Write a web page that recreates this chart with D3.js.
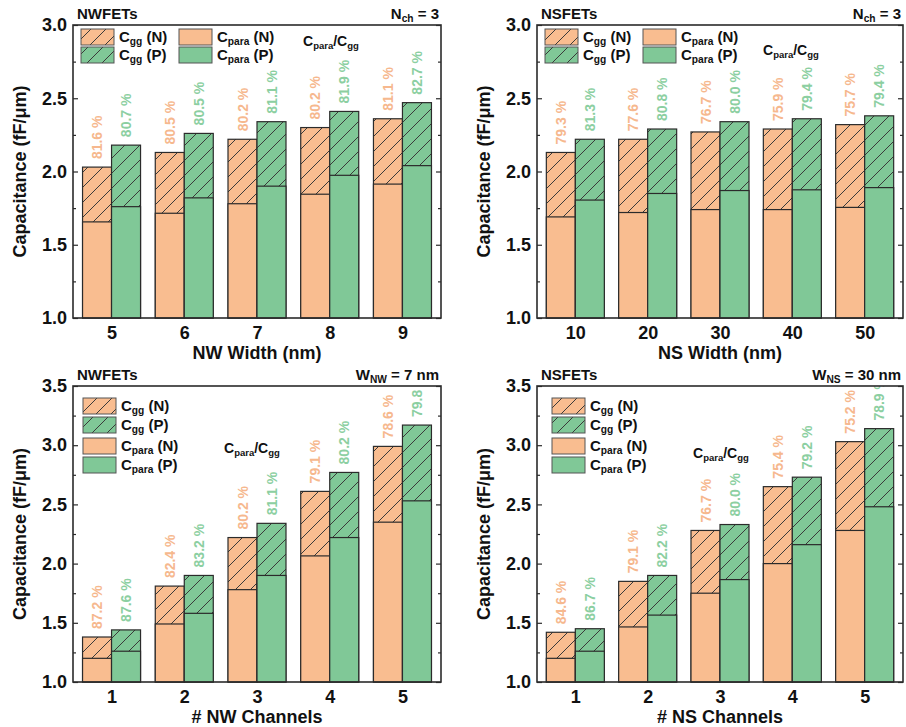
<!DOCTYPE html>
<html>
<head>
<meta charset="utf-8">
<script src="https://cdn.jsdelivr.net/npm/d3@7"></script>
<style>
  body { margin: 0; background: #fff; }
  svg { font-family: "Liberation Sans", Arial, sans-serif; font-weight: bold; }
</style>
</head>
<body>
<svg id="chart" width="906" height="727"></svg>
<script>
/* ---------------- data ---------------- */
// NW width sweep (N_ch = 3)
const nwWidths = ['5', '6', '7', '8', '9'];
const nwWidthCggN = [2.03, 2.13, 2.22, 2.30, 2.36];
const nwWidthCggP = [2.18, 2.26, 2.34, 2.41, 2.47];
const nwWidthCparaN = [1.656, 1.715, 1.78, 1.845, 1.914];
const nwWidthCparaP = [1.76, 1.82, 1.90, 1.974, 2.04];
const nwWidthPctN = ['81.6 %', '80.5 %', '80.2 %', '80.2 %', '81.1 %'];
const nwWidthPctP = ['80.7 %', '80.5 %', '81.1 %', '81.9 %', '82.7 %'];

// NS width sweep (N_ch = 3)
const nsWidths = ['10', '20', '30', '40', '50'];
const nsWidthCggN = [2.13, 2.22, 2.27, 2.29, 2.32];
const nsWidthCggP = [2.22, 2.29, 2.34, 2.36, 2.38];
const nsWidthCparaN = [1.69, 1.72, 1.74, 1.74, 1.755];
const nsWidthCparaP = [1.805, 1.85, 1.87, 1.875, 1.89];
const nsWidthPctN = ['79.3 %', '77.6 %', '76.7 %', '75.9 %', '75.7 %'];
const nsWidthPctP = ['81.3 %', '80.8 %', '80.0 %', '79.4 %', '79.4 %'];

// NW channel count sweep (W_NW = 7 nm)
const nwChannels = ['1', '2', '3', '4', '5'];
const nwChCggN = [1.38, 1.81, 2.22, 2.61, 2.99];
const nwChCggP = [1.44, 1.90, 2.34, 2.77, 3.17];
const nwChCparaN = [1.20, 1.49, 1.78, 2.065, 2.35];
const nwChCparaP = [1.26, 1.58, 1.90, 2.22, 2.53];
const nwChPctN = ['87.2 %', '82.4 %', '80.2 %', '79.1 %', '78.6 %'];
const nwChPctP = ['87.6 %', '83.2 %', '81.1 %', '80.2 %', '79.8 %'];

// NS channel count sweep (W_NS = 30 nm)
const nsChannels = ['1', '2', '3', '4', '5'];
const nsChCggN = [1.42, 1.85, 2.28, 2.65, 3.03];
const nsChCggP = [1.45, 1.90, 2.33, 2.73, 3.14];
const nsChCparaN = [1.20, 1.465, 1.75, 2.00, 2.28];
const nsChCparaP = [1.26, 1.565, 1.865, 2.16, 2.48];
const nsChPctN = ['84.6 %', '79.1 %', '76.7 %', '75.4 %', '75.2 %'];
const nsChPctP = ['86.7 %', '82.2 %', '80.0 %', '79.2 %', '78.9 %'];

/* ---------------- style ---------------- */
const orange = '#f9bd90';
const green = '#80c897';
const orangeText = '#f6b88e';
const greenText = '#8ccfa1';
const ink = '#2b2b2b';

const svg = d3.select('#chart');
const defs = svg.append('defs');

function hatch(id, bg) {
  const p = defs.append('pattern')
    .attr('id', id)
    .attr('patternUnits', 'userSpaceOnUse')
    .attr('width', 15)
    .attr('height', 15);
  p.append('rect').attr('width', 15).attr('height', 15).attr('fill', bg);
  p.append('path')
    .attr('d', 'M0,15 L15,0 M-4,4 L4,-4 M11,19 L19,11')
    .attr('stroke', '#3a3a3a')
    .attr('stroke-width', 1);
}
hatch('hatchN', orange);
hatch('hatchP', green);

// text with subscripts: parts = [[text, isSub], ...]
function richText(sel, parts, size) {
  parts.forEach(([t, sub], i) => {
    const prevSub = i > 0 && parts[i - 1][1];
    const ts = sel.append('tspan').text(t);
    if (sub) ts.attr('font-size', size * 0.68).attr('dy', size * 0.22);
    else if (prevSub) ts.attr('dy', -size * 0.22);
  });
}

/* ---------------- panels ---------------- */
const panels = [
  {
    left: 73, right: 441, top: 25, bottom: 318, yMax: 3.0,
    cats: nwWidths, cggN: nwWidthCggN, cggP: nwWidthCggP,
    cparaN: nwWidthCparaN, cparaP: nwWidthCparaP, pctN: nwWidthPctN, pctP: nwWidthPctP,
    title: 'NWFETs', note: [['N', false], ['ch', true], [' = 3', false]],
    xTitle: 'NW Width (nm)', legend: 'grid', ratio: [230, 46]
  },
  {
    left: 537, right: 903, top: 25, bottom: 318, yMax: 3.0,
    cats: nsWidths, cggN: nsWidthCggN, cggP: nsWidthCggP,
    cparaN: nsWidthCparaN, cparaP: nsWidthCparaP, pctN: nsWidthPctN, pctP: nsWidthPctP,
    title: 'NSFETs', note: [['N', false], ['ch', true], [' = 3', false]],
    xTitle: 'NS Width (nm)', legend: 'grid', ratio: [226, 55]
  },
  {
    left: 73, right: 441, top: 386, bottom: 682, yMax: 3.5,
    cats: nwChannels, cggN: nwChCggN, cggP: nwChCggP,
    cparaN: nwChCparaN, cparaP: nwChCparaP, pctN: nwChPctN, pctP: nwChPctP,
    title: 'NWFETs', note: [['W', false], ['NW', true], [' = 7 nm', false]],
    xTitle: '# NW Channels', legend: 'column', legendX: 10, ratio: [151, 453]
  },
  {
    left: 537, right: 903, top: 386, bottom: 682, yMax: 3.5,
    cats: nsChannels, cggN: nsChCggN, cggP: nsChCggP,
    cparaN: nsChCparaN, cparaP: nsChCparaP, pctN: nsChPctN, pctP: nsChPctP,
    title: 'NSFETs', note: [['W', false], ['NS', true], [' = 30 nm', false]],
    xTitle: '# NS Channels', legend: 'column', legendX: 15, ratio: [156, 458]
  }
];

function drawPanel(cfg, idx) {
  const g = svg.append('g');
  const x = d3.scalePoint().domain(cfg.cats).range([cfg.left, cfg.right]).padding(0.53);
  const y = d3.scaleLinear().domain([1, cfg.yMax]).range([cfg.bottom, cfg.top]);
  const bw = 29;

  const clipId = 'clip' + idx;
  defs.append('clipPath').attr('id', clipId)
    .append('rect')
    .attr('x', cfg.left).attr('y', cfg.top)
    .attr('width', cfg.right - cfg.left).attr('height', cfg.bottom - cfg.top);

  const rows = cfg.cats.map((c, i) => ({
    c, cggN: cfg.cggN[i], cggP: cfg.cggP[i],
    cparaN: cfg.cparaN[i], cparaP: cfg.cparaP[i],
    pctN: cfg.pctN[i], pctP: cfg.pctP[i]
  }));

  const series = [
    { key: 'N', off: -bw, hatch: 'url(#hatchN)', fill: orange, text: orangeText },
    { key: 'P', off: 0, hatch: 'url(#hatchP)', fill: green, text: greenText }
  ];

  const bars = g.append('g');
  series.forEach((s) => {
    bars.selectAll('.cgg' + s.key)
      .data(rows)
      .join('rect')
      .attr('x', (d) => x(d.c) + s.off)
      .attr('y', (d) => y(d['cgg' + s.key]))
      .attr('width', bw)
      .attr('height', (d) => cfg.bottom - y(d['cgg' + s.key]))
      .attr('fill', s.hatch)
      .attr('stroke', ink)
      .attr('stroke-width', 1.2);
    bars.selectAll('.cpara' + s.key)
      .data(rows)
      .join('rect')
      .attr('x', (d) => x(d.c) + s.off)
      .attr('y', (d) => y(d['cpara' + s.key]))
      .attr('width', bw)
      .attr('height', (d) => cfg.bottom - y(d['cpara' + s.key]))
      .attr('fill', s.fill)
      .attr('stroke', ink)
      .attr('stroke-width', 1.2);
  });

  // ratio labels
  const labels = g.append('g').attr('clip-path', `url(#${clipId})`);
  series.forEach((s) => {
    labels.selectAll('.pct' + s.key)
      .data(rows)
      .join('text')
      .attr('transform', (d) =>
        `translate(${x(d.c) + s.off + bw / 2 + 5},${y(d['cgg' + s.key]) - 8}) rotate(-90)`)
      .attr('font-size', 14)
      .attr('fill', s.text)
      .text((d) => d['pct' + s.key]);
  });

  // axes
  const majors = d3.range(1, cfg.yMax + 0.01, 0.5);
  const minors = d3.range(1.25, cfg.yMax, 0.5);

  const yAxis = g.append('g')
    .attr('transform', `translate(${cfg.left},0)`)
    .call(d3.axisLeft(y).tickValues(majors).tickSizeInner(-5).tickSizeOuter(0)
      .tickPadding(6).tickFormat(d3.format('.1f')));
  yAxis.select('.domain').remove();
  yAxis.selectAll('text').attr('font-size', 18).attr('fill', '#111');

  g.append('g')
    .attr('transform', `translate(${cfg.left},0)`)
    .call(d3.axisLeft(y).tickValues(minors).tickSizeInner(-3).tickSizeOuter(0).tickFormat(''))
    .select('.domain').remove();

  const yRight = g.append('g')
    .attr('transform', `translate(${cfg.right},0)`)
    .call(d3.axisRight(y).tickValues(majors).tickSizeInner(-5).tickSizeOuter(0).tickFormat(''));
  yRight.select('.domain').remove();
  g.append('g')
    .attr('transform', `translate(${cfg.right},0)`)
    .call(d3.axisRight(y).tickValues(minors).tickSizeInner(-3).tickSizeOuter(0).tickFormat(''))
    .select('.domain').remove();
  g.selectAll('.tick line').attr('stroke', ink).attr('stroke-width', 1.2);

  const xAxis = g.append('g')
    .attr('transform', `translate(0,${cfg.bottom})`)
    .call(d3.axisBottom(x).tickSize(0).tickPadding(8));
  xAxis.select('.domain').remove();
  xAxis.selectAll('text').attr('font-size', 18).attr('fill', '#111');

  // frame
  g.append('rect')
    .attr('x', cfg.left).attr('y', cfg.top)
    .attr('width', cfg.right - cfg.left).attr('height', cfg.bottom - cfg.top)
    .attr('fill', 'none').attr('stroke', ink).attr('stroke-width', 1.6);

  // axis titles
  g.append('text')
    .attr('transform', `translate(${cfg.left - 47},${(cfg.top + cfg.bottom) / 2}) rotate(-90)`)
    .attr('text-anchor', 'middle')
    .attr('font-size', 18)
    .attr('fill', '#111')
    .text('Capacitance (fF/μm)');

  g.append('text')
    .attr('x', (cfg.left + cfg.right) / 2)
    .attr('y', cfg.bottom + 41)
    .attr('text-anchor', 'middle')
    .attr('font-size', 18)
    .attr('fill', '#111')
    .text(cfg.xTitle);

  // corner texts
  g.append('text')
    .attr('x', cfg.left + 4).attr('y', cfg.top - 6)
    .attr('font-size', 15).attr('fill', '#111')
    .text(cfg.title);
  const note = g.append('text')
    .attr('x', cfg.right - 2).attr('y', cfg.top - 6)
    .attr('text-anchor', 'end')
    .attr('font-size', 15).attr('fill', '#111');
  richText(note, cfg.note, 15);

  // legend
  const items = [
    { fill: 'url(#hatchN)', parts: [['C', false], ['gg', true], [' (N)', false]] },
    { fill: 'url(#hatchP)', parts: [['C', false], ['gg', true], [' (P)', false]] },
    { fill: orange, parts: [['C', false], ['para', true], [' (N)', false]] },
    { fill: green, parts: [['C', false], ['para', true], [' (P)', false]] }
  ];
  const pos = cfg.legend === 'grid'
    ? [[8, 4], [8, 22], [106, 4], [106, 22]]
    : [[cfg.legendX, 12], [cfg.legendX, 31], [cfg.legendX, 52], [cfg.legendX, 71]];
  const lg = g.append('g');
  items.forEach((it, i) => {
    const bx = cfg.left + pos[i][0];
    const by = cfg.top + pos[i][1];
    lg.append('rect')
      .attr('x', bx).attr('y', by).attr('width', 33).attr('height', 16)
      .attr('fill', it.fill).attr('stroke', '#555').attr('stroke-width', 1);
    const t = lg.append('text')
      .attr('x', bx + 38).attr('y', by + 13)
      .attr('font-size', 15).attr('fill', '#111');
    richText(t, it.parts, 15);
  });

  const rt = g.append('text')
    .attr('x', cfg.left + cfg.ratio[0]).attr('y', cfg.ratio[1])
    .attr('font-size', 14).attr('fill', '#111');
  richText(rt, [['C', false], ['para', true], ['/C', false], ['gg', true]], 14);
}

panels.forEach(drawPanel);
</script>
</body>
</html>
